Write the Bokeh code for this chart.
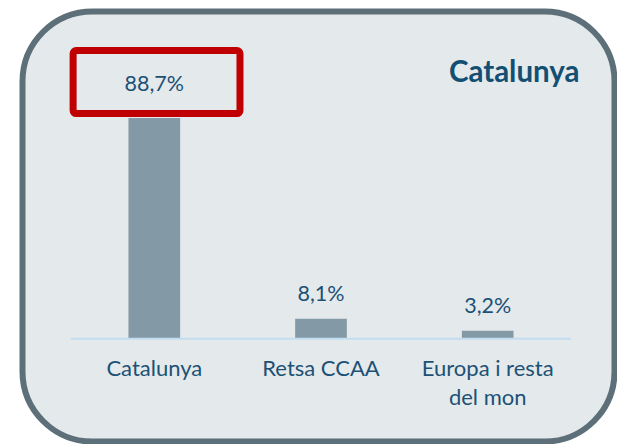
from bokeh.plotting import figure
from bokeh.models import Range1d, BoxAnnotation, Label, ColumnDataSource
from bokeh.core.properties import value
from bokeh.embed import file_html
from bokeh.resources import INLINE

# ---- data ----
categories = ["Catalunya", "Retsa CCAA", "Europa i resta\ndel mon"]
shares = [88.7, 8.1, 3.2]
share_labels = ["88,7%", "8,1%", "3,2%"]
title_text = "Catalunya"
highlight_index = 0

# ---- layout (pixels) ----
W, H = 617, 444
PX_X = 166.7     # px per category slot
PX_Y = 2.49      # px per percentage point
X0_PX = 153.8    # first category centre from left
BASE_PX = 338.3  # baseline from top

x_start = -X0_PX / PX_X
x_end = x_start + W / PX_X
y_end = BASE_PX / PX_Y
y_start = y_end - H / PX_Y

def dx(px):
    return x_start + px / PX_X

def dy(px):
    return y_end - px / PX_Y

TEXT = "#1c5175"
FONT = value("Lato")

p = figure(width=W, height=H, output_backend="svg", toolbar_location=None,
           x_range=Range1d(x_start, x_end), y_range=Range1d(y_start, y_end),
           x_axis_location=None, y_axis_location=None, min_border=0)
p.grid.visible = False
p.outline_line_color = None
p.background_fill_color = "white"
p.border_fill_color = "white"

# rounded panel
panel = BoxAnnotation(left=dx(22), right=dx(614), top=dy(11), bottom=dy(441),
                      fill_color="#e4e9ec", fill_alpha=1.0,
                      line_color="#5d6f79", line_width=6, line_alpha=1.0,
                      border_radius=70, level="underlay")
p.add_layout(panel)

idx = list(range(len(categories)))
src = ColumnDataSource(dict(x=idx, top=shares, lab=share_labels, cat=categories))

p.vbar(x="x", top="top", bottom=0, width=0.31, source=src,
       fill_color="#8399a5", line_color=None)

p.segment(x0=[-0.5], x1=[len(categories) - 0.5], y0=[0], y1=[0],
          line_color="#c2ddf1", line_width=2)

# value labels
normal = [i for i in idx if i != highlight_index]
p.text(x=[idx[i] for i in normal], y=[shares[i] for i in normal],
       text=[share_labels[i] for i in normal], y_offset=-25.5,
       text_align="center", text_baseline="middle", text_font=FONT,
       text_font_size="21.5px", text_color=TEXT)
p.text(x=[idx[highlight_index]], y=[shares[highlight_index]],
       text=[share_labels[highlight_index]], y_offset=-35,
       text_align="center", text_baseline="middle", text_font=FONT,
       text_font_size="21.5px", text_color=TEXT)

# highlight box around the first label
hv = shares[highlight_index]
hbox = BoxAnnotation(left=highlight_index - 0.487, right=highlight_index + 0.514,
                     bottom=hv + 4.4 / PX_Y, top=hv + 67.4 / PX_Y,
                     fill_alpha=0, line_color="#c00000", line_width=7,
                     line_alpha=1.0, border_radius=3, level="annotation")
p.add_layout(hbox)

# category labels
p.text(x="x", y=0, text="cat", source=src, y_offset=15.5,
       text_align="center", text_baseline="top", text_font=FONT,
       text_font_size="22px", text_color=TEXT, text_line_height=1.08)

# title
p.add_layout(Label(x=dx(579), y=dy(70), text=title_text, text_align="right",
                   text_baseline="alphabetic", text_font="Lato",
                   text_font_style="bold", text_font_size="29.5px",
                   text_color="#134f72"))

open("out.html", "w").write(file_html(p, INLINE))
